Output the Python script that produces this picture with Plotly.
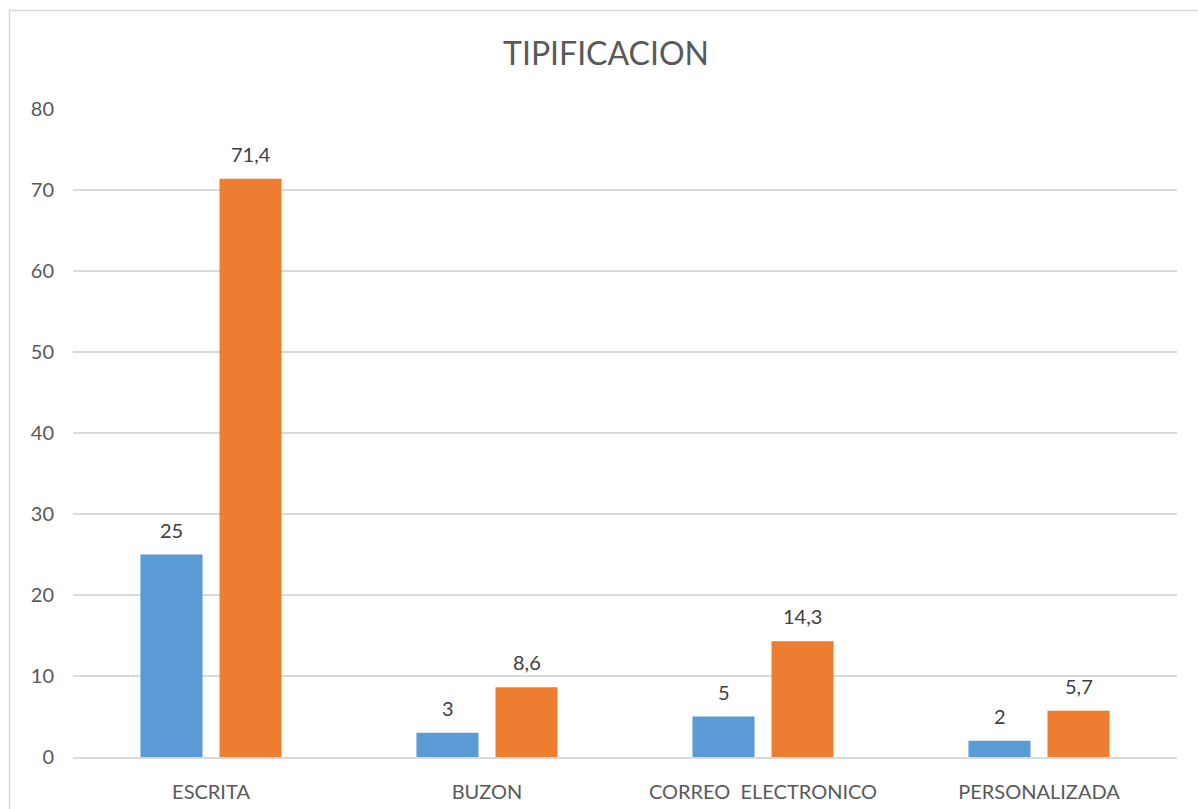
import plotly.graph_objects as go

categories = ["ESCRITA", "BUZON", "CORREO  ELECTRONICO", "PERSONALIZADA"]
serie_a = [25, 3, 5, 2]
serie_b = [71.4, 8.6, 14.3, 5.7]
y_ticks = [0, 10, 20, 30, 40, 50, 60, 70, 80]

def fmt(v):
    return (f"{v:g}").replace(".", ",")

FONT = "Lato"
W, H = 1198, 809
L, R, T, B = 73, 21, 109, 52
pw, ph = W - L - R, H - T - B

xcats = [c.replace("  ", "\u00a0\u00a0") for c in categories]

fig = go.Figure()
fig.add_trace(go.Bar(x=xcats, y=serie_a, marker=dict(color="#5B9BD5", line=dict(width=0)),
                     showlegend=False, hoverinfo="x+y"))
fig.add_trace(go.Bar(x=xcats, y=serie_b, marker=dict(color="#ED7D31", line=dict(width=0)),
                     showlegend=False, hoverinfo="x+y"))

annotations = []
for vals, shift in ((serie_a, -39.5), (serie_b, 39.5)):
    for c, v in zip(xcats, vals):
        annotations.append(dict(x=c, y=v, xref="x", yref="y", text=fmt(v), showarrow=False,
                                xshift=shift, yshift=11, yanchor="bottom", xanchor="center",
                                font=dict(family=FONT, size=20, color="#404040")))

fig.update_layout(
    width=W, height=H, autosize=False,
    margin=dict(l=L, r=R, t=T, b=B, autoexpand=False),
    paper_bgcolor="white", plot_bgcolor="white",
    barmode="group", bargap=0.427, bargroupgap=0.215,
    title=dict(text="TIPIFICACION", x=(606 - L) / pw, xref="paper", xanchor="center",
               y=1 - 54 / H, yanchor="middle",
               font=dict(family=FONT, size=32, color="#595959")),
    font=dict(family=FONT, color="#595959"),
    yaxis=dict(range=[0, 80], tickvals=y_ticks, showgrid=True, gridcolor="#d9d9d9",
               gridwidth=1.5, zeroline=False, showline=False, automargin=False,
               tickfont=dict(family=FONT, size=20, color="#595959"),
               ticklabelstandoff=18),
    xaxis=dict(showline=True, linecolor="#d9d9d9", linewidth=1.5, showgrid=False,
               automargin=False,
               tickfont=dict(family=FONT, size=20, color="#595959"),
               ticklabelstandoff=16),
    annotations=annotations,
    shapes=[dict(type="rect", xref="paper", yref="paper",
                 x0=(9.5 - L) / pw, x1=(W + 20 - L) / pw,
                 y0=-(B + 20) / ph, y1=(H - B - 10.5) / ph,
                 line=dict(color="#d9d9d9", width=1.5), fillcolor="rgba(0,0,0,0)", layer="below")],
)

fig.write_html("out.html", config={"displayModeBar": False},
               post_script="document.body.style.margin='0';document.body.style.overflow='hidden';")
